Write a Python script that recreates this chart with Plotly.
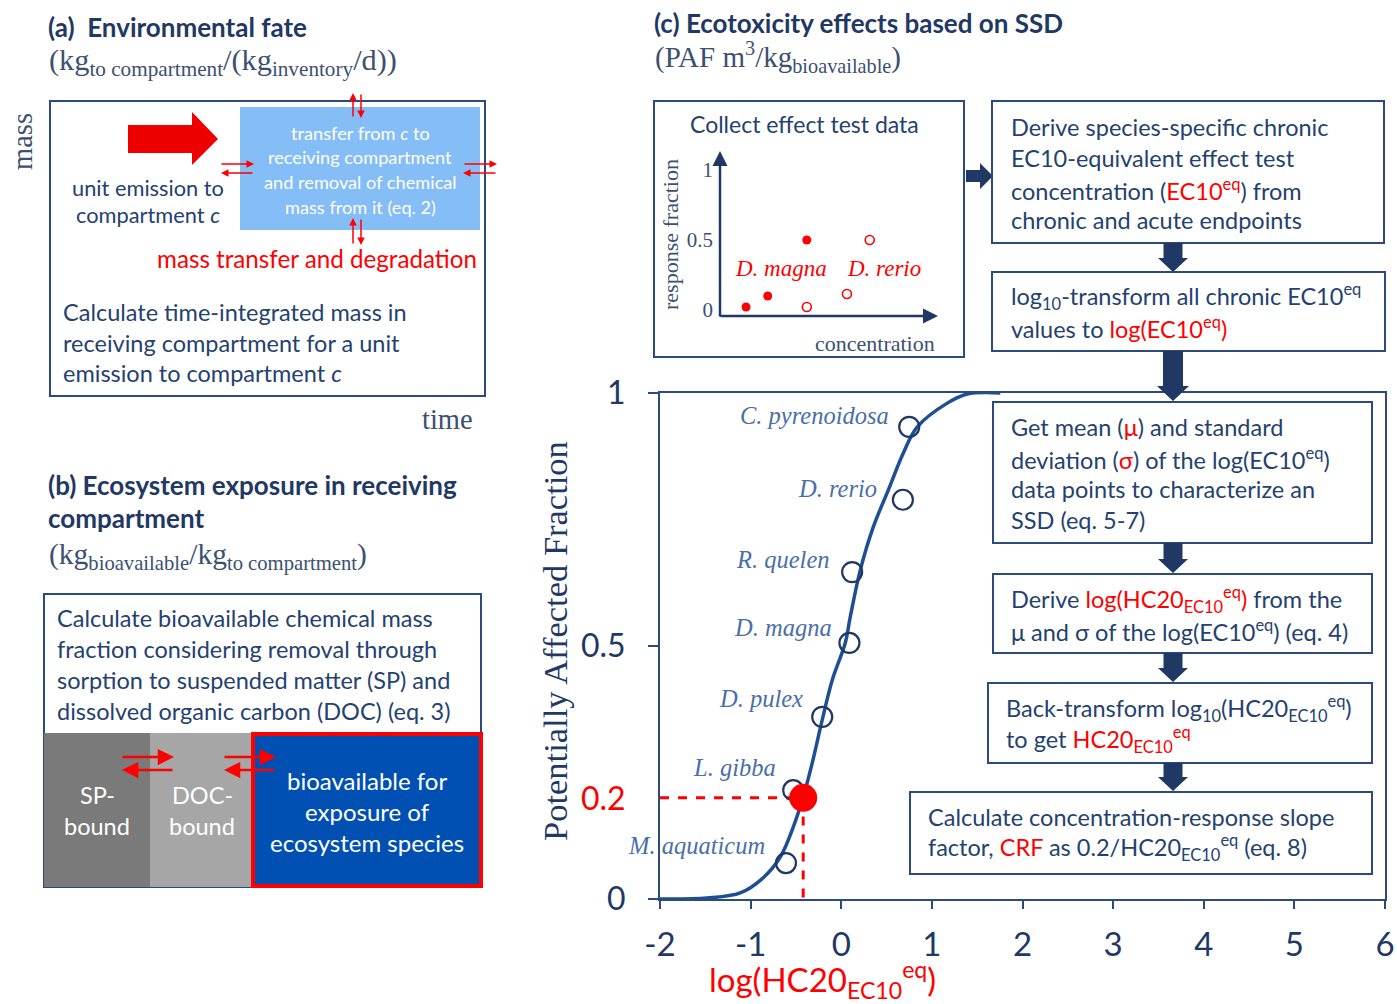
import plotly.graph_objects as go

W, H = 1397, 1004
NAVY = "#1F3864"
TXT = "#24416F"
BOX = "#2C4A7C"
RED = "#FF0000"
SPEC = "#4A6FA8"
CURVE = "#1E4F95"
UNIT = "#3C5070"
SANS = "Lato"
SERIF = "Liberation Serif"

# ---------------- data: species sensitivity distribution (panel c) -------------
species = ["M. aquaticum", "L. gibba", "D. pulex", "D. magna", "R. quelen", "D. rerio", "C. pyrenoidosa"]
log_ec10 = [-0.61, -0.53, -0.21, 0.09, 0.12, 0.68, 0.75]
paf = [0.071, 0.215, 0.360, 0.506, 0.646, 0.789, 0.933]
label_x = [-0.817, -0.695, -0.40, -0.077, -0.10, 0.42, 0.552]
label_y = [0.105, 0.259, 0.397, 0.536, 0.670, 0.812, 0.955]

ssd_x = [-2.0, -1.48, -1.115, -0.861, -0.673, -0.530, -0.419, -0.320, -0.210, -0.099,
         0.044, 0.099, 0.210, 0.353, 0.519, 0.684, 0.839, 1.170, 1.391, 1.755]
ssd_y = [0.0, 0.002, 0.012, 0.042, 0.083, 0.142, 0.202, 0.269, 0.354, 0.433,
         0.506, 0.557, 0.650, 0.735, 0.808, 0.881, 0.933, 0.980, 0.998, 1.0]

hc20_log = -0.42
hc20_paf = 0.2

x_ticks = [-2, -1, 0, 1, 2, 3, 4, 5, 6]
x_ticktext = ["-2", "-1", "0", "1", "2", "3", "4", "5", "6"]
y_ticks = [0, 0.5, 1]
y_ticktext = ["0", "0.5", "1"]

# ---------------- data: inset (collect effect test data) ----------------------
magna_conc = [1.2, 2.2, 4.0]
magna_resp = [0.021, 0.10, 0.5]
rerio_conc = [4.0, 5.85, 6.9]
rerio_resp = [0.021, 0.114, 0.5]
inset_ticks = [0, 0.5, 1]
inset_ticktext = ["0", "0.5", "1"]


def px(x):
    return x / W


def py(y):
    return 1 - y / H


shapes = []
annotations = []


def rect(x0, y0, x1, y1, line=BOX, width=2, fill="rgba(0,0,0,0)", layer="above"):
    shapes.append(dict(type="rect", xref="paper", yref="paper", x0=px(x0), x1=px(x1),
                       y0=py(y1), y1=py(y0), line=dict(color=line, width=width),
                       fillcolor=fill, layer=layer))


def poly(points, color):
    path = "M " + " L ".join(f"{px(a)},{py(b)}" for a, b in points) + " Z"
    shapes.append(dict(type="path", xref="paper", yref="paper", path=path,
                       fillcolor=color, line=dict(color=color, width=0), layer="above"))


def text(x, y, s, size=23.5, color=TXT, anchor="left", family=SANS, angle=0):
    annotations.append(dict(x=px(x), y=py(y), xref="paper", yref="paper", text=s,
                            showarrow=False, xanchor=anchor, yanchor="middle",
                            textangle=angle,
                            font=dict(family=family, size=size, color=color)))


def lines(x, y0, dy, rows, size=23.5, color=TXT, anchor="left"):
    for i, r in enumerate(rows):
        text(x, y0 + i * dy, r, size=size, color=color, anchor=anchor)


def arrow(x0, y0, x1, y1, color=RED, width=1.5, head=2, hsize=1.0):
    annotations.append(dict(x=px(x1), y=py(y1), xref="paper", yref="paper", text="",
                            showarrow=True, ax=x0 - x1, ay=y0 - y1, axref="pixel", ayref="pixel",
                            arrowhead=head, arrowsize=hsize, arrowwidth=width,
                            arrowcolor=color, standoff=0, startstandoff=0))


def down_arrow(cx, y0, y1, bw=9.5, hw=15, hl=14, color=NAVY):
    poly([(cx - bw, y0), (cx + bw, y0), (cx + bw, y1 - hl), (cx + hw, y1 - hl), (cx, y1),
          (cx - hw, y1 - hl), (cx - bw, y1 - hl)], color)


def red_span(s):
    return f'<span style="color:{RED}">{s}</span>'


HC = "HC20<sub>EC10</sub><sup>eq</sup>"

# ======================= panel (a) =======================
text(46, 27, "<b>(a)  Environmental fate</b>", size=26, color=NAVY)
text(47, 62, "(kg<sub>to compartment</sub>/(kg<sub>inventory</sub>/d))", size=30.3,
     color=UNIT, family=SERIF)
text(23, 142, "mass", size=28.5, color=UNIT, family=SERIF, angle=-90, anchor="center")
text(447, 419, "time", size=28.5, color=UNIT, family=SERIF, anchor="center")
rect(50, 101, 485, 396)
rect(240, 107, 480, 230, line="#85BDF7", width=0, fill="#85BDF7")
lines(360, 133, 24.5, ["transfer from <i>c</i> to", "receiving compartment",
                       "and removal of chemical", "mass from it (eq. 2)"],
      size=18.2, color="white", anchor="center")
poly([(128, 125), (192, 125), (192, 112), (218, 139), (192, 165), (192, 153), (128, 153)], "#EE0000")
lines(148, 187, 27, ["unit emission to", "compartment <i>c</i>"], size=21.8, anchor="center")
text(155, 258, "mass transfer and degradation", size=24.2, color=RED)
lines(61, 312, 30.5, ["Calculate time-integrated mass in", "receiving compartment for a unit",
                      "emission to compartment <i>c</i>"])
# small exchange arrows
arrow(353, 118, 353, 93)
arrow(361, 93, 361, 118)
arrow(353, 245, 353, 218)
arrow(361, 218, 361, 245)
arrow(220, 164, 254, 164)
arrow(254, 173, 221, 173)
arrow(463, 164, 497, 164)
arrow(497, 173, 463, 173)

# ======================= panel (b) =======================
text(46, 485, "<b>(b) Ecosystem exposure in receiving</b>", size=26, color=NAVY)
text(46, 518, "<b>compartment</b>", size=26, color=NAVY)
text(47, 556, "(kg<sub>bioavailable</sub>/kg<sub>to compartment</sub>)", size=29.5,
     color=UNIT, family=SERIF)
rect(44, 594, 481, 887)
lines(55, 618, 31, ["Calculate bioavailable chemical mass", "fraction considering removal through",
                    "sorption to suspended matter (SP) and", "dissolved organic carbon (DOC) (eq. 3)"])
rect(44, 733, 150, 887, line="#7A7A7A", width=0, fill="#7A7A7A")
rect(150, 733, 253, 887, line="#A6A6A6", width=0, fill="#A6A6A6")
rect(253, 734, 481, 886, line="#FF0000", width=4, fill="#0050B4")
lines(97, 795, 30.5, ["SP-", "bound"], size=23.5, color="white", anchor="center")
lines(202, 795, 30.5, ["DOC-", "bound"], size=23.5, color="white", anchor="center")
lines(367, 780, 31, ["bioavailable for", "exposure of", "ecosystem species"], size=24,
      color="white", anchor="center")
arrow(121, 757, 174, 757, width=2.5, head=2, hsize=1.3)
arrow(174, 770, 122, 770, width=2.5, head=2, hsize=1.3)
arrow(223, 757, 276, 757, width=2.5, head=2, hsize=1.3)
arrow(276, 770, 224, 770, width=2.5, head=2, hsize=1.3)

# ======================= panel (c) =======================
text(652, 23, "<b>(c) Ecotoxicity effects based on SSD</b>", size=26, color=NAVY)
text(653, 57, "(PAF m<sup>3</sup>/kg<sub>bioavailable</sub>)", size=29, color=UNIT, family=SERIF)

# inset box
rect(654, 101, 964, 357)
text(804, 124, "Collect effect test data", size=23, anchor="center")
arrow(720, 318, 720, 151, color=NAVY, width=2.5, head=2, hsize=1.2)
arrow(719, 316, 938, 316, color=NAVY, width=2.5, head=2, hsize=1.2)
text(670, 235, "response fraction", size=22, color=UNIT, family=SERIF, angle=-90, anchor="center")
text(875, 344, "concentration", size=22, color=UNIT, family=SERIF, anchor="center")
text(781, 268, "<i>D. magna</i>", size=23, color=RED, family=SERIF, anchor="center")
text(884, 268, "<i>D. rerio</i>", size=23, color=RED, family=SERIF, anchor="center")
poly([(966, 170), (980, 170), (980, 163), (993, 176), (980, 189), (980, 182), (966, 182)], NAVY)

# flowchart boxes
rect(992, 101, 1384, 243, fill="white")
lines(1009, 127, 31, ["Derive species-specific chronic", "EC10-equivalent effect test",
                      "concentration (" + red_span("EC10<sup>eq</sup>") + ") from",
                      "chronic and acute endpoints"])
down_arrow(1173, 243, 272)
rect(992, 272, 1385, 351, fill="white")
lines(1009, 297, 30.5, ["log<sub>10</sub>-transform all chronic EC10<sup>eq</sup>",
                        "values to " + red_span("log(EC10<sup>eq</sup>)")])
down_arrow(1173, 351, 401, bw=10, hw=16, hl=15)
rect(993, 402, 1372, 543, fill="white")
lines(1009, 427, 31, ["Get mean (" + red_span("μ") + ") and standard",
                      "deviation (" + red_span("σ") + ") of the log(EC10<sup>eq</sup>)",
                      "data points to characterize an", "SSD (eq. 5-7)"])
down_arrow(1173, 543, 573)
rect(993, 574, 1372, 653, fill="white")
lines(1009, 599, 31, ["Derive " + red_span("log(" + HC + ")") + " from the",
                      "μ and σ of the log(EC10<sup>eq</sup>) (eq. 4)"])
down_arrow(1173, 653, 682)
rect(988, 683, 1372, 763, fill="white")
lines(1004, 708, 31, ["Back-transform log<sub>10</sub>(" + HC + ")",
                      "to get " + red_span(HC)])
down_arrow(1173, 763, 791)
rect(910, 792, 1372, 874, fill="white")
lines(926, 817, 30.5, ["Calculate concentration-response slope",
                       "factor, " + red_span("CRF") + " as 0.2/" + HC + " (eq. 8)"])

# axis titles for SSD plot
text(555, 641, "Potentially Affected Fraction", size=34.5, color=NAVY, family=SERIF, angle=-90, anchor="center")
text(822, 979, "log(" + HC + ")", size=33, color=RED, anchor="center")

# species labels
for nm, lx, ly in zip(species, label_x, label_y):
    annotations.append(dict(x=lx, y=ly, xref="x", yref="y", text=f"<i>{nm}</i>", showarrow=False,
                            xanchor="right", yanchor="middle",
                            font=dict(family=SERIF, size=24.5, color=SPEC)))
annotations.append(dict(x=px(628), y=hc20_paf, xref="paper", yref="y", text=str(hc20_paf), showarrow=False,
                        xanchor="right", yanchor="middle",
                        font=dict(family=SANS, size=32, color=RED)))

fig = go.Figure()
fig.add_trace(go.Scatter(x=ssd_x, y=ssd_y, mode="lines", line=dict(color=CURVE, width=3.5, shape="spline"),
                         hoverinfo="skip", showlegend=False))
fig.add_trace(go.Scatter(x=[x_ticks[0], hc20_log, hc20_log], y=[hc20_paf, hc20_paf, 0], mode="lines",
                         line=dict(color=RED, width=3, dash="dash"), showlegend=False))
fig.add_trace(go.Scatter(x=log_ec10, y=paf, mode="markers", text=species,
                         marker=dict(symbol="circle-open", size=20, color=NAVY, line=dict(width=2.2)),
                         showlegend=False))
fig.add_trace(go.Scatter(x=[hc20_log], y=[hc20_paf], mode="markers",
                         marker=dict(size=28, color=RED), showlegend=False))
# inset traces
fig.add_trace(go.Scatter(x=magna_conc, y=magna_resp, mode="markers", xaxis="x2", yaxis="y2",
                         marker=dict(size=9, color=RED), showlegend=False))
fig.add_trace(go.Scatter(x=rerio_conc, y=rerio_resp, mode="markers", xaxis="x2", yaxis="y2",
                         marker=dict(symbol="circle-open", size=9, color=RED, line=dict(width=1.6)),
                         showlegend=False))

fig.update_layout(
    width=W, height=H, autosize=False,
    margin=dict(l=0, r=0, t=0, b=0, pad=0, autoexpand=False),
    paper_bgcolor="white", plot_bgcolor="white",
    shapes=shapes, annotations=annotations,
    xaxis=dict(domain=[px(660), px(1385)], range=[-2, 6], tickvals=x_ticks, ticktext=x_ticktext,
               ticks="outside", ticklen=8, automargin=False,
               tickwidth=1.5, tickcolor=BOX, showline=True, linecolor=BOX, linewidth=2, mirror=True,
               showgrid=False, zeroline=False, ticklabelstandoff=7,
               tickfont=dict(family=SANS, size=33, color=NAVY)),
    yaxis=dict(domain=[py(899), py(393)], range=[0, 1], tickvals=y_ticks, ticktext=y_ticktext,
               ticks="outside", ticklen=10, tickwidth=1.5, tickcolor=BOX, showline=True, linecolor=BOX,
               linewidth=2, mirror=True, showgrid=False, zeroline=False, ticklabelstandoff=16,
               automargin=False, tickfont=dict(family=SANS, size=32, color=NAVY)),
    xaxis2=dict(domain=[px(720), px(937)], range=[0, 10], anchor="y2", showline=False, showgrid=False,
                zeroline=False, showticklabels=False, ticks="", automargin=False),
    yaxis2=dict(domain=[py(316), py(152)], range=[-0.043, 1.129], anchor="x2", showline=False,
                showgrid=False, zeroline=False, tickvals=inset_ticks, ticktext=inset_ticktext, ticks="",
                automargin=False, ticklabelstandoff=6,
                tickfont=dict(family=SERIF, size=21, color=UNIT)),
)

fig.write_html("out.html", config={"displayModeBar": False},
               post_script="document.body.style.margin='0';")
